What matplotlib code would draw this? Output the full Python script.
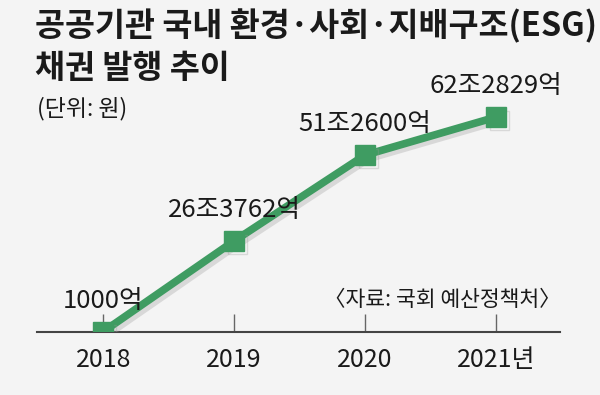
import matplotlib
matplotlib.use('Agg')
from matplotlib import pyplot as plt
import matplotlib.patheffects as pe

plt.rcParams['font.family'] = ['Noto Sans CJK KR', 'DejaVu Sans']

years = [2018, 2019, 2020, 2021]
year_labels = ['2018', '2019', '2020', '2021년']
values = [0.1, 26.3762, 51.26, 62.2829]  # 조 원
value_labels = ['1000억', '26조3762억', '51조2600억', '62조2829억']

green = '#3f9c62'
bg = '#f4f4f4'

fig = plt.figure(figsize=(6, 3.95), dpi=100, facecolor=bg)
ax = fig.add_axes([0.062, 0.1595, 0.871, 0.655])
ax.set_facecolor(bg)

x = list(range(len(years)))
ax.plot(x, values, color=green, lw=5.5, marker='s', markersize=14, zorder=3,
        path_effects=[pe.SimpleLineShadow(offset=(2.5, -2.5), shadow_color='#999999', alpha=0.3),
                      pe.Normal()])

for xi, v, lab in zip(x, values, value_labels):
    ax.annotate(lab, (xi, v), xytext=(0, 13), textcoords='offset points',
                ha='center', va='bottom', fontsize=18.5, color='#1a1a1a', zorder=4)

ax.set_xlim(-0.504, 3.489)
ax.set_ylim(0, 75)

for s in ['top', 'right', 'left']:
    ax.spines[s].set_visible(False)
ax.spines['bottom'].set_color('#444444')
ax.spines['bottom'].set_linewidth(1.5)
ax.set_yticks([])
ax.set_xticks(x)
ax.set_xticklabels(year_labels, fontsize=18, color='#1a1a1a')
ax.tick_params(axis='x', direction='in', length=13, width=1, color='#666666', pad=11)

fig.text(0.058, 0.978, '공공기관 국내 환경·사회·지배구조(ESG)', fontsize=23.5, fontweight='bold',
         ha='left', va='top', color='#1a1a1a')
fig.text(0.058, 0.868, '채권 발행 추이', fontsize=23.5, fontweight='bold',
         ha='left', va='top', color='#1a1a1a')
fig.text(0.062, 0.755, '(단위: 원)', fontsize=16.5, ha='left', va='top', color='#1a1a1a')
fig.text(0.935, 0.213, '〈자료: 국회 예산정책처〉', fontsize=15.5, ha='right', va='bottom', color='#1a1a1a')

fig.savefig('out.png', dpi=100, facecolor=bg)
